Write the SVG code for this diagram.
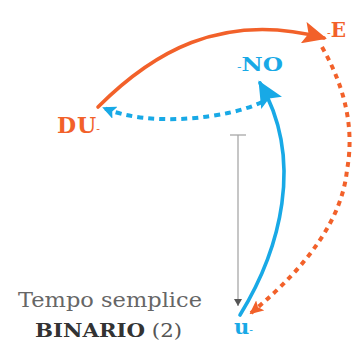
<svg xmlns="http://www.w3.org/2000/svg" width="354" height="340" viewBox="0 0 354 340">
  <style>
    .lbl { font-family: "DejaVu Serif", "Liberation Serif", serif; font-weight: bold; }
    .dash { font-weight: normal; font-size: 11px; }
    .or { fill: #F2612A; }
    .bl { fill: #18A9E6; }
    .solid-or { fill: none; stroke: #F2612A; stroke-width: 3.6; stroke-linecap: round; }
    .dot-or { fill: none; stroke: #F2612A; stroke-width: 4; stroke-dasharray: 5 5; }
    .solid-bl { fill: none; stroke: #18A9E6; stroke-width: 3.6; stroke-linecap: round; }
    .dot-bl { fill: none; stroke: #18A9E6; stroke-width: 4; stroke-dasharray: 6 5; }
    .gray { fill: none; stroke: #A8A8A8; stroke-width: 1.3; }
  </style>
  <defs>
    <marker id="bigOr" markerUnits="userSpaceOnUse" markerWidth="24" markerHeight="22" refX="21" refY="11" orient="auto">
      <path d="M0,0 L24,11 L0,22 L5,11 z" fill="#F2612A"/>
    </marker>
    <marker id="bigBl" markerUnits="userSpaceOnUse" markerWidth="26" markerHeight="24" refX="23" refY="12" orient="auto">
      <path d="M0,0 L26,12 L0,24 L5,12 z" fill="#18A9E6"/>
    </marker>
    <marker id="smOr" markerUnits="userSpaceOnUse" markerWidth="14" markerHeight="13" refX="12" refY="6.5" orient="auto">
      <path d="M0,0 L14,6.5 L0,13 L3,6.5 z" fill="#F2612A"/>
    </marker>
    <marker id="smBl" markerUnits="userSpaceOnUse" markerWidth="14" markerHeight="13" refX="12" refY="6.5" orient="auto">
      <path d="M0,0 L14,6.5 L0,13 L3,6.5 z" fill="#18A9E6"/>
    </marker>
    <marker id="smGr" markerUnits="userSpaceOnUse" markerWidth="7" markerHeight="8" refX="7" refY="4" orient="auto">
      <path d="M0,0 L7,4 L0,8 z" fill="#555"/>
    </marker>
  </defs>

  <g id="connectors">
    <path class="solid-or" d="M98,107 C150,55 220,10 324,38" marker-end="url(#bigOr)"/>
    <path class="dot-or" d="M322,47 Q358,110 347,170 Q340,240 251,313" marker-end="url(#smOr)"/>
    <path class="solid-bl" d="M240,315 C280,250 305,160 260,83" marker-end="url(#bigBl)"/>
    <path class="dot-bl" d="M262,102 C230,118 150,128 104,108" marker-end="url(#smBl)"/>
    <g id="time-line">
      <line class="gray" x1="230" y1="135" x2="246" y2="135"/>
      <line class="gray" x1="238" y1="135" x2="238" y2="306" marker-end="url(#smGr)"/>
    </g>
  </g>

  <g id="node-du">
    <text class="lbl or" x="57" y="133" font-size="22" letter-spacing="1">DU<tspan class="dash" dx="-1">-</tspan></text>
  </g>
  <g id="node-e">
    <text class="lbl or" x="327" y="37" font-size="20"><tspan class="dash">-</tspan>E</text>
  </g>
  <g id="node-no">
    <text class="lbl bl" x="237" y="71" font-size="19" textLength="46" lengthAdjust="spacingAndGlyphs"><tspan class="dash" font-size="12">-</tspan>NO</text>
  </g>
  <g id="node-u">
    <text class="lbl bl" x="234" y="334" font-size="21">u<tspan class="dash">-</tspan></text>
  </g>
  <g id="caption">
    <text x="18" y="307" font-family="'DejaVu Serif', 'Liberation Serif', serif" font-size="20" fill="#666" textLength="184" lengthAdjust="spacingAndGlyphs">Tempo semplice</text>
    <text x="35" y="337" font-family="'DejaVu Serif', 'Liberation Serif', serif" font-size="19" textLength="147" lengthAdjust="spacingAndGlyphs"><tspan font-weight="bold" fill="#333">BINARIO</tspan><tspan fill="#555"> (2)</tspan></text>
  </g>
</svg>
